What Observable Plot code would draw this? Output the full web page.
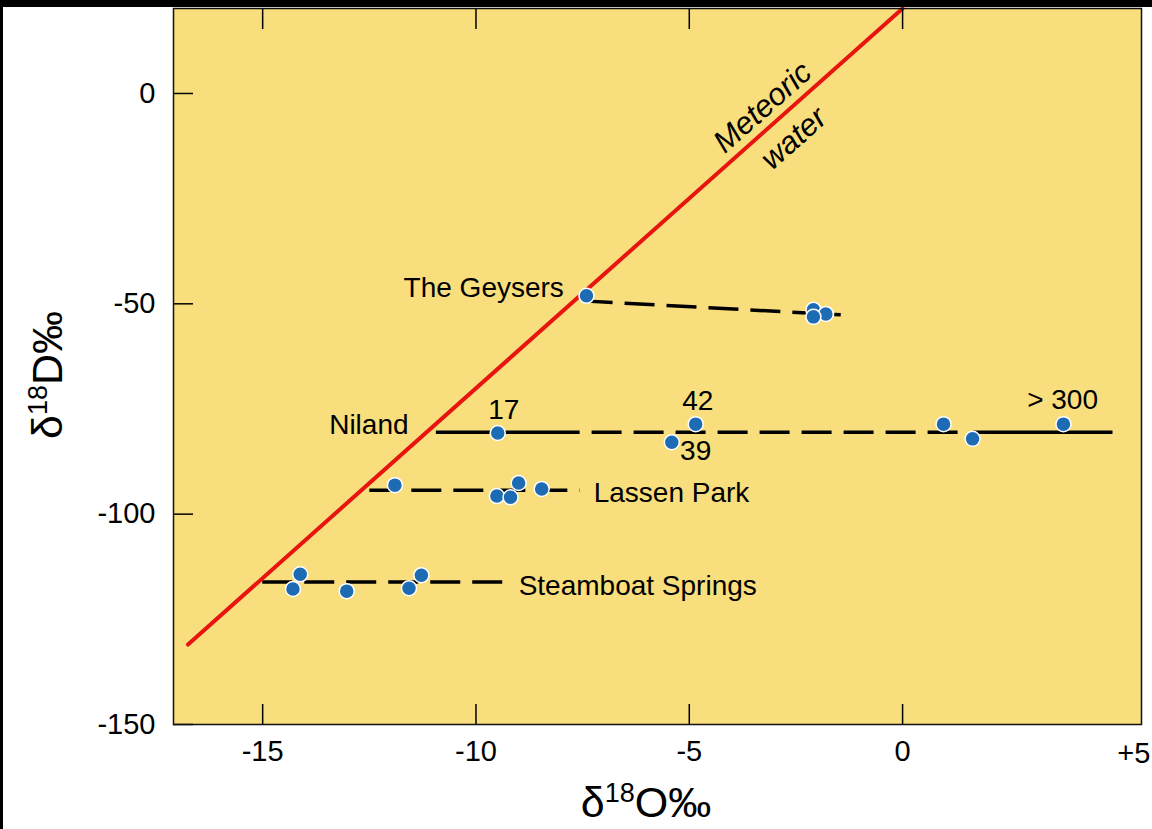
<!DOCTYPE html>
<html><head><meta charset="utf-8">
<script src="https://cdn.jsdelivr.net/npm/d3@7"></script>
<script src="https://cdn.jsdelivr.net/npm/@observablehq/plot@0.6"></script>
<style>
html,body{margin:0;padding:0;background:#fff;}
#wrap{position:relative;width:1152px;height:829px;overflow:hidden;background:#fff;}
.band{position:absolute;background:#000;}
</style></head><body>
<div id="wrap"><div class="band" style="left:0;top:0;width:1152px;height:7px"></div><div class="band" style="left:0;top:0;width:3px;height:829px"></div></div>
<script>
// ---- data ----
const xTicks = [-15, -10, -5, 0];
const yTicks = [0, -50, -100, -150];
const xExtraLabel = ["+5"];
const xExtraValue = [5];

const meteoricX = [-16.75, 0];
const meteoricY = [-131, 20.2];

const pointSeries = ["The Geysers","The Geysers","The Geysers","The Geysers",
  "Niland","Niland","Niland","Niland","Niland","Niland",
  "Lassen Park","Lassen Park","Lassen Park","Lassen Park","Lassen Park",
  "Steamboat Springs","Steamboat Springs","Steamboat Springs","Steamboat Springs","Steamboat Springs"];
const pointX = [-7.41, -2.09, -1.80, -2.09,
  -9.49, -4.85, -5.41, 0.96, 1.64, 3.77,
  -11.9, -9.51, -9.19, -9.0, -8.46,
  -14.12, -14.29, -13.03, -11.57, -11.28];
const pointY = [-48.1, -51.4, -52.4, -53.1,
  -80.7, -78.6, -82.9, -78.6, -82.1, -78.6,
  -93.1, -95.7, -96.0, -92.6, -94.0,
  -114.3, -117.8, -118.3, -117.6, -114.5];

const segSeries = ["The Geysers","Niland","Niland","Niland","Lassen Park","Steamboat Springs"];
const segX1 = [-7.5, -10.94, -7.29, 1.66, -12.5, -15.01];
const segY1 = [-49.3, -80.5, -80.5, -80.5, -94.3, -116.1];
const segX2 = [-1.45, -7.57, 1.41, 4.92, -7.57, -9.34];
const segY2 = [-52.6, -80.5, -80.5, -80.5, -94.3, -116.1];
const segDashed = [true, false, true, false, true, true];

const labelText = ["The Geysers", "Niland", "17", "42", "39", "> 300", "Lassen Park", "Steamboat Springs"];
const labelX = [-7.94, -11.58, -9.35, -4.80, -4.85, 3.75, -7.24, -9.0];
const labelY = [-46.2, -78.8, -75.2, -73.1, -85.0, -72.9, -95.0, -117.2];
const labelAnchor = ["end", "end", "middle", "middle", "middle", "middle", "start", "start"];

const lineLabelText = ["Meteoric", "water"];
const lineLabelX = [-3.28, -2.55];
const lineLabelY = [-3.3, -10.7];

// ---- build tables ----
const points = pointX.map((x, i) => ({series: pointSeries[i], x, y: pointY[i]}));
const segs = segX1.map((x1, i) => ({series: segSeries[i], x1, y1: segY1[i], x2: segX2[i], y2: segY2[i], dashed: segDashed[i]}));
const meteoric = meteoricX.map((x, i) => ({x, y: meteoricY[i]}));
const labels = labelText.map((t, i) => ({t, x: labelX[i], y: labelY[i], a: labelAnchor[i]}));
const lineLabels = lineLabelText.map((t, i) => ({t, x: lineLabelX[i], y: lineLabelY[i]}));
const extra = xExtraLabel.map((t, i) => ({t, x: xExtraValue[i]}));

const font = "'Liberation Sans', Arial, Helvetica, sans-serif";
const fmt = d => String(d);

const plot = Plot.plot({
  width: 1152, height: 829,
  marginLeft: 173, marginRight: 11, marginTop: 8, marginBottom: 105,
  x: {domain: [-17.09, 5.6]},
  y: {domain: [-150, 20.2]},
  style: {background: "transparent", fontFamily: font, fontSize: "28px", color: "#000", overflow: "visible"},
  marks: [
    Plot.frame({fill: "#f8de7d"}),
    Plot.link(segs.filter(d => d.dashed), {x1: "x1", y1: "y1", x2: "x2", y2: "y2", stroke: "#000", strokeWidth: 3.5, strokeDasharray: "30,12"}),
    Plot.link(segs.filter(d => !d.dashed), {x1: "x1", y1: "y1", x2: "x2", y2: "y2", stroke: "#000", strokeWidth: 3.5}),
    Plot.line(meteoric, {x: "x", y: "y", stroke: "#e8140f", strokeWidth: 4}),
    Plot.dot(points, {x: "x", y: "y", r: 7.5, fill: "#1d6bb3", stroke: "white", strokeWidth: 1.5}),
    Plot.text(labels.filter(d => d.a === "end"), {x: "x", y: "y", text: "t", textAnchor: "end", fontSize: 28, fill: "#000"}),
    Plot.text(labels.filter(d => d.a === "start"), {x: "x", y: "y", text: "t", textAnchor: "start", fontSize: 28, fill: "#000"}),
    Plot.text(labels.filter(d => d.a === "middle"), {x: "x", y: "y", text: "t", textAnchor: "middle", fontSize: 28, fill: "#000"}),
    Plot.text(lineLabels, {x: "x", y: "y", text: "t", rotate: -41.6, fontSize: 31, fontStyle: "italic", fill: "#000"}),
    Plot.axisX({anchor: "bottom", ticks: xTicks, tickSize: -20, tickFormat: () => "", label: null, strokeWidth: 1.5}),
    Plot.axisX({anchor: "top", ticks: xTicks, tickSize: -20, tickFormat: () => "", label: null, strokeWidth: 1.5}),
    Plot.axisX({anchor: "bottom", ticks: xTicks, tickSize: 0, tickPadding: 16, tickFormat: fmt, label: null, fontSize: 29}),
    Plot.text(extra, {x: "x", text: "t", frameAnchor: "bottom", dy: 29, dx: 18, lineAnchor: "middle", fontSize: 29, fill: "#000"}),
    Plot.axisY({anchor: "left", ticks: yTicks, tickSize: -20, tickFormat: () => "", label: null, strokeWidth: 1.5}),
    Plot.axisY({anchor: "left", ticks: yTicks, tickSize: 0, tickPadding: 18, tickFormat: fmt, label: null, fontSize: 29}),
    Plot.frame({stroke: "#111", strokeWidth: 1.5})
  ]
});

const svg = d3.select(plot);
// x-axis title
const xt = svg.append("text").attr("x", 646).attr("y", 817).attr("text-anchor", "middle")
  .attr("font-family", font).attr("font-size", 43).attr("fill", "#000");
xt.append("tspan").text("δ");
xt.append("tspan").attr("font-size", 27).attr("dy", -15).text("18");
xt.append("tspan").attr("dy", 15).text("O‰");
// y-axis title
const yt = svg.append("text").attr("transform", "translate(62,375) rotate(-90)").attr("text-anchor", "middle")
  .attr("font-family", font).attr("font-size", 43).attr("fill", "#000");
yt.append("tspan").text("δ");
yt.append("tspan").attr("font-size", 27).attr("dy", -15).text("18");
yt.append("tspan").attr("dy", 15).text("D‰");

plot.style.position = "absolute";
plot.style.left = "0";
plot.style.top = "0";
const wrap = document.getElementById("wrap");
wrap.insertBefore(plot, wrap.firstChild);
</script>
</body></html>
